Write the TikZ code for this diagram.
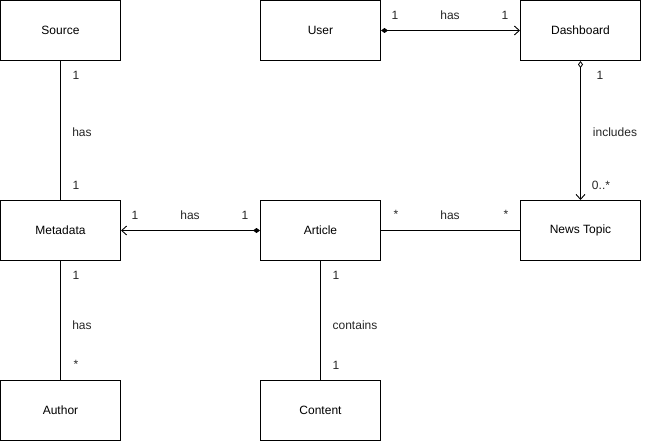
\documentclass[tikz,border=0pt]{standalone}
\usepackage{fontspec}
\setmainfont{Liberation Sans}
\usetikzlibrary{arrows.meta}
\begin{document}
\begin{tikzpicture}[x=1pt,y=-1pt,
  box/.style={draw,line width=1pt,minimum width=120pt,minimum height=60pt,inner sep=0pt,font=\fontsize{12}{14}\selectfont},
  lbl/.style={font=\fontsize{12}{14}\selectfont,inner sep=0pt,text=black!85},
  conn/.style={line width=1pt},
  openhead/.style={-{Straight Barb[length=5pt,width=9pt,line width=0.9pt]}},
]
\useasboundingbox (0,0) rectangle (651,441);
\node[box] (source) at (60.5,30.5) {Source};
\node[box] (user) at (320.5,30.5) {User};
\node[box] (dash) at (580.5,30.5) {Dashboard};
\node[box] (meta) at (60.5,230.5) {Metadata};
\node[box] (article) at (320.5,230.5) {Article};
\node[box] (topic) at (580.5,230.5) {News Topic};
\node[box] (author) at (60.5,410.5) {Author};
\node[box] (content) at (320.5,410.5) {Content};

% User - Dashboard
\draw[conn,{Diamond[length=7pt,width=5pt,fill=black]}-{Straight Barb[length=5pt,width=9pt,line width=0.9pt]}] (user.east) -- (dash.west);
\node[lbl] (l1) at (395,15) {1};
\node[lbl] (l2) at (450,15) {has};
\node[lbl] (l3) at (505,15) {1};

% Dashboard - News Topic
\draw[conn,{Diamond[open,length=7pt,width=5pt,line width=0.8pt]}-{Straight Barb[length=5pt,width=9pt,line width=0.9pt]}] (dash.south) -- (topic.north);
\node[lbl] (l4) at (600,75) {1};
\node[lbl] (l5) at (615,132) {includes};
\node[lbl] (l6) at (601,185) {0..*};

% Article - Metadata
\draw[conn,{Diamond[length=7pt,width=5pt,fill=black]}-{Straight Barb[length=5pt,width=9pt,line width=0.9pt]}] (article.west) -- (meta.east);
\node[lbl] (l7) at (135,215) {1};
\node[lbl] (l8) at (190,215) {has};
\node[lbl] (l9) at (245,215) {1};

% Article - News Topic
\draw[conn] (article.east) -- (topic.west);
\node[lbl] (l10) at (396,214) {*};
\node[lbl] (l11) at (450,215) {has};
\node[lbl] (l12) at (506,214) {*};

% Source - Metadata
\draw[conn] (source.south) -- (meta.north);
\node[lbl] (l13) at (76,75) {1};
\node[lbl] (l14) at (82,132) {has};
\node[lbl] (l15) at (76,185) {1};

% Metadata - Author
\draw[conn] (meta.south) -- (author.north);
\node[lbl] (l16) at (76,275) {1};
\node[lbl] (l17) at (82,325) {has};
\node[lbl] (l18) at (76,364) {*};

% Article - Content
\draw[conn] (article.south) -- (content.north);
\node[lbl] (l19) at (336,275) {1};
\node[lbl] (l20) at (355,325) {contains};
\node[lbl] (l21) at (336,365) {1};
\end{tikzpicture}
\end{document}
